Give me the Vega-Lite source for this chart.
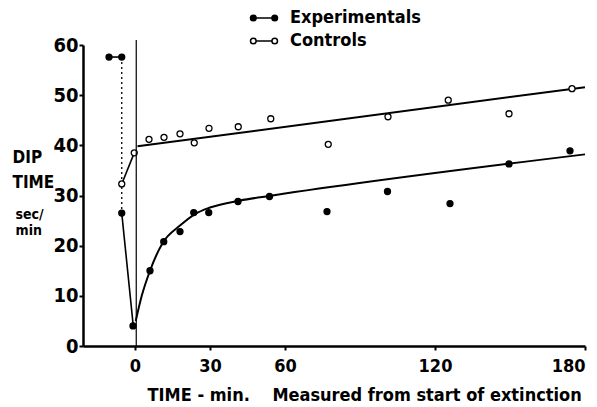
{
  "$schema": "https://vega.github.io/schema/vega-lite/v6.json",
  "width": 502,
  "height": 301,
  "autosize": {"type": "none"},
  "padding": {"left": 83, "top": 45, "right": 12, "bottom": 61},
  "background": "white",
  "config": {
    "view": {"stroke": null},
    "font": "DejaVu Sans Condensed, Liberation Sans, sans-serif",
    "axis": {"grid": false, "domainColor": "black", "tickColor": "black", "labelColor": "black", "titleColor": "black", "titleFontWeight": "bold", "labelFontWeight": "bold"}
  },
  "datasets": {
    "points": [
      {"t": -10.4, "v": 57.6, "group": "Experimentals"},
      {"t": -5.3, "v": 57.6, "group": "Experimentals"},
      {"t": -5.3, "v": 26.5, "group": "Experimentals"},
      {"t": -0.8, "v": 4, "group": "Experimentals"},
      {"t": 6, "v": 15, "group": "Experimentals"},
      {"t": 11.5, "v": 20.8, "group": "Experimentals"},
      {"t": 18, "v": 22.8, "group": "Experimentals"},
      {"t": 23.5, "v": 26.6, "group": "Experimentals"},
      {"t": 29.5, "v": 26.6, "group": "Experimentals"},
      {"t": 41.2, "v": 28.8, "group": "Experimentals"},
      {"t": 53.8, "v": 29.8, "group": "Experimentals"},
      {"t": 76.8, "v": 26.8, "group": "Experimentals"},
      {"t": 101, "v": 30.8, "group": "Experimentals"},
      {"t": 126, "v": 28.4, "group": "Experimentals"},
      {"t": 149.6, "v": 36.3, "group": "Experimentals"},
      {"t": 174, "v": 38.9, "group": "Experimentals"},
      {"t": -5.3, "v": 32.3, "group": "Controls"},
      {"t": -0.3, "v": 38.5, "group": "Controls"},
      {"t": 5.6, "v": 41.2, "group": "Controls"},
      {"t": 11.6, "v": 41.6, "group": "Controls"},
      {"t": 18, "v": 42.3, "group": "Controls"},
      {"t": 23.7, "v": 40.5, "group": "Controls"},
      {"t": 29.6, "v": 43.4, "group": "Controls"},
      {"t": 41.3, "v": 43.7, "group": "Controls"},
      {"t": 54.3, "v": 45.3, "group": "Controls"},
      {"t": 77.3, "v": 40.2, "group": "Controls"},
      {"t": 101.2, "v": 45.7, "group": "Controls"},
      {"t": 125.3, "v": 49, "group": "Controls"},
      {"t": 149.6, "v": 46.3, "group": "Controls"},
      {"t": 174.8, "v": 51.3, "group": "Controls"}
    ],
    "lines": [
      {"seg": "zero", "t": 0.5, "v": 0},
      {"seg": "zero", "t": 0.5, "v": 61},
      {"seg": "e_pre_top", "t": -10.4, "v": 57.6},
      {"seg": "e_pre_top", "t": -5.3, "v": 57.6},
      {"seg": "e_dotted", "t": -5.3, "v": 57.6},
      {"seg": "e_dotted", "t": -5.3, "v": 26.5},
      {"seg": "e_drop", "t": -5.3, "v": 26.5},
      {"seg": "e_drop", "t": -0.8, "v": 4.5},
      {"seg": "c_pre", "t": -5.3, "v": 32.3},
      {"seg": "c_pre", "t": -0.3, "v": 38.5},
      {"seg": "c_fit", "t": 1, "v": 39.8},
      {"seg": "c_fit", "t": 180, "v": 51.6},
      {"seg": "e_fit", "t": 0.3, "v": 5},
      {"seg": "e_fit", "t": 2.7, "v": 10},
      {"seg": "e_fit", "t": 6, "v": 15},
      {"seg": "e_fit", "t": 11, "v": 20.5},
      {"seg": "e_fit", "t": 18, "v": 24},
      {"seg": "e_fit", "t": 24, "v": 26.3},
      {"seg": "e_fit", "t": 30, "v": 27.6},
      {"seg": "e_fit", "t": 42, "v": 29},
      {"seg": "e_fit", "t": 55, "v": 30},
      {"seg": "e_fit", "t": 180, "v": 38.2}
    ]
  },
  "resolve": {"scale": {"y": "independent"}},
  "layer": [
    {
      "encoding": {
        "x": {
          "field": "t", "type": "quantitative",
          "scale": {"domain": [-20.8, 180], "nice": false, "zero": false},
          "axis": {
            "values": [0, 30, 60, 120, 180],
            "title": "TIME - min.\u00a0\u00a0\u00a0 Measured from start of extinction",
            "titleFontSize": 18, "titleX": 64, "titleY": 54, "titleAlign": "left", "titleBaseline": "alphabetic",
            "labelFontSize": 18, "labelPadding": 7, "tickSize": 4, "tickWidth": 2, "domainWidth": 2.5, "labelFlush": true
          }
        },
        "y": {
          "field": "v", "type": "quantitative",
          "scale": {"domain": [0, 60], "nice": false},
          "axis": {
            "values": [0, 10, 20, 30, 40, 50, 60],
            "title": ["DIP", "TIME"],
            "titleAngle": 0, "titleAlign": "left", "titleBaseline": "alphabetic",
            "titleX": -71, "titleY": 117, "titleFontSize": 17, "titleLineHeight": 25,
            "labelFontSize": 20, "labelPadding": 1, "tickSize": 4, "tickWidth": 2, "domainWidth": 2.5
          }
        }
      },
      "layer": [
        {
          "data": {"name": "lines"},
          "transform": [{"filter": "datum.seg === 'e_pre_top' || datum.seg === 'e_drop' || datum.seg === 'c_pre'"}],
          "mark": {"type": "line", "color": "black", "strokeWidth": 1.6},
          "encoding": {"detail": {"field": "seg"}}
        },
        {
          "data": {"name": "lines"},
          "transform": [{"filter": "datum.seg === 'e_dotted'"}],
          "mark": {"type": "line", "color": "black", "strokeWidth": 1.3, "strokeDash": [2, 3]},
          "encoding": {"detail": {"field": "seg"}}
        },
        {
          "data": {"name": "lines"},
          "transform": [{"filter": "datum.seg === 'c_fit' || datum.seg === 'e_fit'"}],
          "mark": {"type": "line", "color": "black", "strokeWidth": 2, "interpolate": "monotone"},
          "encoding": {"detail": {"field": "seg"}}
        },
        {
          "data": {"name": "points"},
          "mark": {"type": "point", "filled": true, "stroke": "black", "strokeWidth": 1.3, "size": 36, "opacity": 1},
          "encoding": {
            "fill": {
              "field": "group", "type": "nominal",
              "scale": {"domain": ["Experimentals", "Controls"], "range": ["black", "white"]},
              "legend": {
                "orient": "none", "legendX": 171, "legendY": -37, "title": null,
                "symbolType": "M-0.88,0L0.88,0M-1.5,0A0.31,0.31 0 1,0 -0.88,0A0.31,0.31 0 1,0 -1.5,0M0.88,0A0.31,0.31 0 1,0 1.5,0A0.31,0.31 0 1,0 0.88,0",
                "symbolSize": 324, "symbolStrokeColor": "black", "symbolStrokeWidth": 1.5, "symbolOpacity": 1,
                "labelFontSize": 18, "labelFontWeight": "bold", "labelColor": "black",
                "labelOffset": 16, "rowPadding": 4, "padding": 0
              }
            }
          }
        }
      ]
    },
    {
      "data": {"name": "lines"},
      "transform": [{"filter": "datum.seg === 'zero'"}],
      "mark": {"type": "line", "color": "black", "strokeWidth": 1.2},
      "encoding": {
        "x": {
          "field": "t", "type": "quantitative",
          "scale": {"domain": [-20.8, 180], "nice": false, "zero": false},
          "axis": {
            "values": [0, 30, 60, 120, 180],
            "title": "TIME - min.\u00a0\u00a0\u00a0 Measured from start of extinction",
            "titleFontSize": 18, "titleX": 64, "titleY": 54, "titleAlign": "left", "titleBaseline": "alphabetic",
            "labelFontSize": 18, "labelPadding": 7, "tickSize": 4, "tickWidth": 2, "domainWidth": 2.5, "labelFlush": true
          }
        },
        "y": {
          "field": "v", "type": "quantitative",
          "scale": {"domain": [0, 60], "nice": false},
          "axis": {
            "orient": "right", "domain": false, "domainOpacity": 0, "domainColor": "transparent", "ticks": false, "labels": false,
            "title": ["sec/", "min"], "titleAngle": 0, "titleAlign": "left", "titleBaseline": "alphabetic",
            "titleX": -570, "titleY": 173, "titleFontSize": 14, "titleLineHeight": 16
          }
        }
      }
    }
  ]
}
